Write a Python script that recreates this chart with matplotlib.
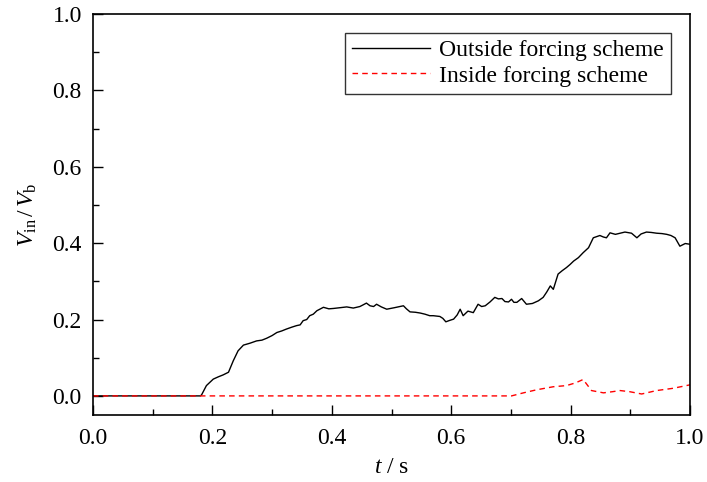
import matplotlib.pyplot as plt
from matplotlib.ticker import MultipleLocator

# outside forcing scheme
t_out = [0.0, 0.18, 0.182, 0.190, 0.2015, 0.210, 0.218, 0.227, 0.235, 0.243, 0.252,
         0.263, 0.274, 0.283, 0.291, 0.300, 0.308, 0.316, 0.324, 0.333, 0.341,
         0.347, 0.352, 0.358, 0.363, 0.369, 0.375, 0.386, 0.395, 0.403, 0.414,
         0.425, 0.436, 0.447, 0.452, 0.458, 0.464, 0.470, 0.475, 0.483, 0.492,
         0.505, 0.520, 0.525, 0.531, 0.540, 0.548, 0.556, 0.564, 0.570, 0.581,
         0.586, 0.591, 0.598, 0.604, 0.610, 0.615, 0.620, 0.628, 0.637, 0.645,
         0.651, 0.657, 0.665, 0.673, 0.679, 0.685, 0.690, 0.696, 0.701, 0.705,
         0.710, 0.718, 0.726, 0.736, 0.746, 0.754, 0.760, 0.766, 0.771, 0.779,
         0.786, 0.793, 0.799, 0.805, 0.813, 0.821, 0.830, 0.838, 0.849, 0.855,
         0.860, 0.866, 0.875, 0.883, 0.891, 0.902, 0.911, 0.918, 0.927, 0.935,
         0.944, 0.953, 0.961, 0.968, 0.975, 0.983, 0.992, 1.0]
v_out = [0.0, 0.0, 0.003, 0.027, 0.044, 0.050, 0.055, 0.062, 0.092, 0.118, 0.133,
         0.138, 0.144, 0.146, 0.151, 0.158, 0.166, 0.170, 0.175, 0.180, 0.184,
         0.186, 0.197, 0.200, 0.210, 0.214, 0.223, 0.232, 0.228, 0.229, 0.231,
         0.233, 0.230, 0.234, 0.238, 0.243, 0.236, 0.234, 0.240, 0.233, 0.227,
         0.231, 0.236, 0.228, 0.220, 0.219, 0.217, 0.214, 0.210, 0.210, 0.208,
         0.203, 0.194, 0.198, 0.201, 0.212, 0.227, 0.210, 0.222, 0.218, 0.240,
         0.234, 0.236, 0.246, 0.258, 0.254, 0.255, 0.247, 0.246, 0.253, 0.245,
         0.245, 0.255, 0.240, 0.242, 0.249, 0.258, 0.272, 0.288, 0.279, 0.319,
         0.328, 0.336, 0.344, 0.353, 0.362, 0.375, 0.388, 0.414, 0.420, 0.416,
         0.414, 0.427, 0.423, 0.426, 0.429, 0.426, 0.414, 0.424, 0.429, 0.428,
         0.426, 0.425, 0.423, 0.420, 0.414, 0.392, 0.399, 0.397]

# inside forcing scheme
t_in = [0.0, 0.701, 0.721, 0.743, 0.771, 0.793, 0.808, 0.821, 0.835, 0.855,
        0.870, 0.883, 0.899, 0.919, 0.944, 0.972, 1.0]
v_in = [0.0, 0.0, 0.008, 0.016, 0.024, 0.027, 0.034, 0.043, 0.014, 0.008,
        0.011, 0.014, 0.011, 0.005, 0.014, 0.020, 0.029]

plt.rcParams['font.family'] = ['Liberation Serif', 'DejaVu Serif']
plt.rcParams['mathtext.fontset'] = 'custom'
plt.rcParams['mathtext.rm'] = 'Liberation Serif'
plt.rcParams['mathtext.it'] = 'Liberation Serif:italic'

fig = plt.figure(figsize=(7.07, 4.82), dpi=100)
ax = fig.add_axes([0.1315, 0.139, 0.8445, 0.832])

ax.plot(t_out, v_out, color='black', linewidth=1.0, label='Outside forcing scheme')
ax.plot(t_in, v_in, color='red', linewidth=1.0, linestyle=(0, (4, 3)), label='Inside forcing scheme')

ax.set_xlim(0.0, 1.0)
ax.set_ylim(-0.05, 1.0)
ax.xaxis.set_major_locator(MultipleLocator(0.2))
ax.xaxis.set_minor_locator(MultipleLocator(0.1))
ax.yaxis.set_major_locator(MultipleLocator(0.2))
ax.yaxis.set_minor_locator(MultipleLocator(0.1))
ax.xaxis.set_major_formatter(plt.FormatStrFormatter('%.1f'))
ax.yaxis.set_major_formatter(plt.FormatStrFormatter('%.1f'))
ax.tick_params(which='both', direction='in', labelsize=17, width=1.0)
ax.tick_params(which='major', length=7)
ax.tick_params(which='minor', length=4)
ax.tick_params(axis='x', pad=9)
ax.tick_params(axis='y', pad=8)
for s in ax.spines.values():
    s.set_linewidth(1.2)

ax.set_xlabel(r'$t$ / s', fontsize=17, labelpad=6)
ax.set_ylabel(r'$V_{\rm in}\,/\,V_{\rm b}$', fontsize=17, labelpad=10)

leg = ax.legend(loc='upper right', fontsize=17, frameon=True, fancybox=False,
                edgecolor='black', handlelength=3.3, borderpad=0.3,
                labelspacing=0.15, handletextpad=0.4, borderaxespad=0.8)
leg.get_frame().set_linewidth(1.0)

fig.savefig('out.png', dpi=100)
